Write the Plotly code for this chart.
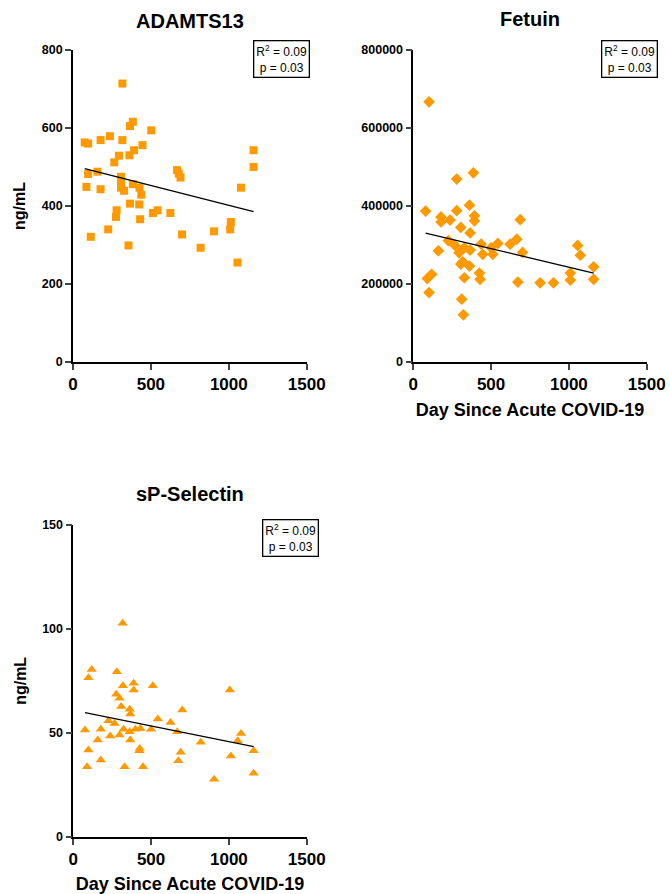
import plotly.graph_objects as go

# ---------------- data ----------------
adamts_day = [75, 97, 177, 237, 317, 317, 366, 384, 502, 446, 392, 362, 295, 265,
              97, 157, 86, 177, 308, 308, 308, 328, 384, 427, 438, 366, 425, 280,
              276, 431, 226, 114, 356, 513, 543, 625, 668, 679, 690, 700, 819, 905,
              1009, 1013, 1056, 1078, 1159, 1159]
adamts_val = [563, 560, 569, 579, 714, 569, 605, 616, 594, 556, 543, 530, 529, 512,
              482, 488, 449, 443, 475, 458, 447, 439, 456, 447, 429, 406, 404, 389,
              372, 366, 340, 321, 299, 382, 389, 382, 492, 483, 473, 327, 293, 335,
              340, 359, 255, 447, 543, 500]
adamts_fit = [503.6, -0.1019]   # intercept, slope

fetuin_day = [101, 79, 101, 90, 118, 161, 178, 178, 225, 236, 268, 279, 279, 294,
              305, 305, 318, 311, 322, 328, 328, 361, 365, 365, 361, 386, 393, 393,
              436, 446, 425, 429, 500, 511, 543, 622, 665, 687, 702, 672, 815, 901,
              1009, 1009, 1056, 1073, 1159, 1159]
fetuin_val = [667000, 387000, 178000, 214000, 225000, 285000, 372000, 359000, 311000,
              364000, 299000, 469000, 388000, 280000, 345000, 251000, 257000, 161000,
              121000, 216000, 293000, 402000, 331000, 287000, 246000, 485000, 375000,
              362000, 302000, 276000, 228000, 212000, 293000, 276000, 304000, 302000,
              315000, 365000, 281000, 205000, 203000, 203000, 228000, 210000, 299000,
              274000, 244000, 212000]
fetuin_fit = [338100, -95.0]

selectin_day = [75, 97, 88, 97, 118, 177, 157, 177, 226, 237, 265, 276, 280, 297,
                308, 317, 319, 297, 323, 330, 362, 366, 362, 366, 388, 388, 399, 431,
                427, 425, 448, 500, 511, 543, 625, 668, 690, 675, 700, 819, 905, 1006,
                1013, 1056, 1078, 1159, 1159]
selectin_val = [51.3, 41.7, 33.7, 76.5, 80.5, 51.7, 46.5, 36.9, 55.8, 48.5, 54.5, 68.5,
                79.4, 66.6, 62.6, 102.7, 72.7, 48.9, 51.7, 33.7, 61.3, 59.0, 50.5, 46.5,
                73.8, 70.6, 51.7, 52.1, 42.5, 41.4, 33.7, 51.7, 72.7, 56.6, 54.9, 50.5,
                40.6, 36.6, 61.0, 45.4, 27.6, 70.6, 38.8, 46.2, 49.7, 41.4, 30.5]
selectin_fit = [60.8, -0.01506]

titles = ["ADAMTS13", "Fetuin", "sP-Selectin"]
x_ticks = [0, 500, 1000, 1500]
y_ticks_adamts = [0, 200, 400, 600, 800]
y_ticks_fetuin = [0, 200000, 400000, 600000, 800000]
y_ticks_selectin = [0, 50, 100, 150]
stats_text = "R<sup>2</sup> = 0.09<br>p = 0.03"
x_title = "Day Since Acute COVID-19"
y_title = "ng/mL"

# ---------------- style ----------------
W, H = 670, 894
ORANGE = "#FF9900"
FONT = "Liberation Sans, Arial, sans-serif"

def px_x(p):
    return p / W

def px_y(p):
    return 1 - p / H

panels = [
    dict(days=adamts_day, vals=adamts_val, fit=adamts_fit, symbol="square", size=8,
         yt=y_ticks_adamts, xd=[73, 306.7], yd=[50, 362], title=titles[0],
         title_xy=(190, 21), box=(310, 40), ytitle=True, xtitle=False),
    dict(days=fetuin_day, vals=fetuin_val, fit=fetuin_fit, symbol="diamond", size=9,
         yt=y_ticks_fetuin, xd=[413.3, 646.7], yd=[50, 362], title=titles[1],
         title_xy=(530, 19), box=(658, 40), ytitle=False, xtitle=True),
    dict(days=selectin_day, vals=selectin_val, fit=selectin_fit, symbol="triangle-up", size=9,
         yt=y_ticks_selectin, xd=[73.3, 306.7], yd=[525, 836.7], title=titles[2],
         title_xy=(190, 494), box=(319, 519), ytitle=True, xtitle=True),
]

fig = go.Figure()
annotations = []
layout = {}

for i, p in enumerate(panels, start=1):
    sfx = "" if i == 1 else str(i)
    xa, ya = "x" + sfx, "y" + sfx
    fig.add_trace(go.Scatter(
        x=p["days"], y=p["vals"], mode="markers", xaxis=xa, yaxis=ya,
        marker=dict(symbol=p["symbol"], size=p["size"], color=ORANGE, line=dict(width=0)),
        showlegend=False, cliponaxis=False))
    x0, x1 = min(p["days"]), max(p["days"])
    b0, b1 = p["fit"]
    fig.add_trace(go.Scatter(
        x=[x0, x1], y=[b0 + b1 * x0, b0 + b1 * x1], mode="lines", xaxis=xa, yaxis=ya,
        line=dict(color="black", width=1.3), showlegend=False))

    layout["xaxis" + sfx] = dict(
        domain=[px_x(p["xd"][0]), px_x(p["xd"][1])], anchor=ya, automargin=False,
        range=[0, 1500], tickvals=x_ticks, ticktext=[str(v) for v in x_ticks],
        ticks="outside", ticklen=6, tickwidth=1.6,
        showline=True, linecolor="black", linewidth=1.6, showgrid=False, zeroline=False,
        tickfont=dict(family=FONT, size=17, color="black", weight="bold"),
        title=dict(text=x_title if p["xtitle"] else "", standoff=10,
                   font=dict(family=FONT, size=18, color="black", weight="bold")),
        fixedrange=True)
    layout["yaxis" + sfx] = dict(
        domain=[px_y(p["yd"][1]), px_y(p["yd"][0])], anchor=xa, automargin=False,
        range=[0, p["yt"][-1]], tickvals=p["yt"], ticktext=[str(v) for v in p["yt"]],
        ticks="outside", ticklen=6, tickwidth=1.6,
        showline=True, linecolor="black", linewidth=1.6, showgrid=False, zeroline=False,
        tickfont=dict(family=FONT, size=12.5, color="black", weight="bold"),
        title=dict(text=y_title if p["ytitle"] else "", standoff=12,
                   font=dict(family=FONT, size=16, color="black", weight="bold")),
        fixedrange=True)

    annotations.append(dict(
        text=p["title"], x=px_x(p["title_xy"][0]), y=px_y(p["title_xy"][1]),
        xref="paper", yref="paper", xanchor="center", yanchor="middle", showarrow=False,
        font=dict(family=FONT, size=20, color="black", weight="bold")))
    annotations.append(dict(
        text=stats_text, x=px_x(p["box"][0]), y=px_y(p["box"][1]),
        xref="paper", yref="paper", xanchor="right", yanchor="top", showarrow=False,
        align="center", bordercolor="black", borderwidth=1.3, borderpad=2,
        bgcolor="white", font=dict(family=FONT, size=12, color="black")))

fig.update_layout(
    width=W, height=H, margin=dict(l=0, r=0, t=0, b=0),
    paper_bgcolor="white", plot_bgcolor="white", hovermode=False,
    annotations=annotations, **layout)

fig.write_html("out.html", config={"displayModeBar": False},
               post_script="document.body.style.margin='0';document.body.style.overflow='hidden';")
